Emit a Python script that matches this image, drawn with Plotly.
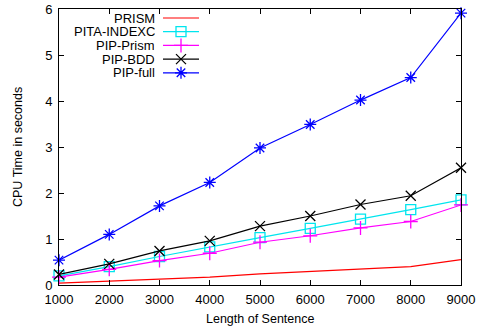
import plotly.graph_objects as go

lengths = [1000, 2000, 3000, 4000, 5000, 6000, 7000, 8000, 9000]
prism = [0.04, 0.08, 0.12, 0.17, 0.24, 0.29, 0.35, 0.40, 0.55]
pita_indexc = [0.20, 0.40, 0.62, 0.83, 1.03, 1.23, 1.43, 1.64, 1.85]
pip_prism = [0.17, 0.34, 0.53, 0.69, 0.93, 1.07, 1.24, 1.38, 1.74]
pip_bdd = [0.23, 0.46, 0.74, 0.96, 1.28, 1.50, 1.75, 1.94, 2.55]
pip_full = [0.54, 1.10, 1.72, 2.23, 2.98, 3.49, 4.02, 4.51, 5.91]

series = [
    ("PRISM", prism, "#ff0000", None),
    ("PITA-INDEXC", pita_indexc, "#00e5ee", "square-open"),
    ("PIP-Prism", pip_prism, "#ff00ff", "cross-thin-open"),
    ("PIP-BDD", pip_bdd, "#000000", "x-thin-open"),
    ("PIP-full", pip_full, "#0000ff", "asterisk-open"),
]

FONT = "Liberation Sans, Arial, sans-serif"
fig = go.Figure()

for name, vals, color, sym in series:
    fig.add_trace(go.Scatter(
        x=lengths, y=vals, name=name,
        mode="lines+markers" if sym else "lines",
        line=dict(color=color, width=1.2),
        marker=dict(symbol=sym or "circle", size=10, color=color,
                    line=dict(color=color, width=1.3)),
        showlegend=False, cliponaxis=False,
    ))

# gnuplot-style key (text right-aligned, sample to its right) on an overlay axis in pixel units
for i, (name, vals, color, sym) in enumerate(series):
    yrow = 9 + 13.7 * i
    fig.add_trace(go.Scatter(
        x=[104, 140], y=[yrow, yrow], mode="lines",
        line=dict(color=color, width=1.2),
        xaxis="x2", yaxis="y2", showlegend=False, hoverinfo="skip",
    ))
    if sym:
        fig.add_trace(go.Scatter(
            x=[122], y=[yrow], mode="markers",
            marker=dict(symbol=sym, size=10, color=color,
                        line=dict(color=color, width=1.3)),
            xaxis="x2", yaxis="y2", showlegend=False, hoverinfo="skip",
        ))
    fig.add_annotation(
        x=97, y=yrow, xref="x2", yref="y2", text=name, showarrow=False,
        xanchor="right", yanchor="middle", borderpad=0, height=13,
        font=dict(family=FONT, size=13, color="#000"),
    )

fig.add_annotation(x=0.5, y=0, xref="paper", yref="paper", text="Length of Sentence",
                   showarrow=False, xanchor="center", yanchor="middle", yshift=-34,
                   font=dict(family=FONT, size=12.5, color="#000"))
fig.add_annotation(x=0, y=0.5, xref="paper", yref="paper", text="CPU Time in seconds",
                   showarrow=False, xanchor="center", yanchor="middle", xshift=-41,
                   textangle=-90, font=dict(family=FONT, size=12.5, color="#000"))

axis_common = dict(
    showgrid=False, zeroline=False, showline=True, linecolor="black",
    linewidth=1, mirror="ticks", ticks="inside", ticklen=5,
    tickcolor="black", tickfont=dict(family=FONT, size=13, color="#000"),
    automargin=False, ticklabeloverflow="allow",
)

fig.update_layout(
    width=481, height=330,
    margin=dict(l=59, r=20, t=9, b=45),
    paper_bgcolor="white", plot_bgcolor="white",
    showlegend=False,
    xaxis=dict(range=[1000, 9000], tickvals=lengths, ticklabelstandoff=2, **axis_common),
    yaxis=dict(range=[0, 6], tickvals=[0, 1, 2, 3, 4, 5, 6], ticklabelstandoff=3, **axis_common),
    xaxis2=dict(range=[0, 402], overlaying="x", visible=False, anchor="y2"),
    yaxis2=dict(range=[276, 0], overlaying="y", visible=False, anchor="x2"),
)

fig.write_html("out.html", config={"displayModeBar": False},
               post_script="document.body.style.margin='0px';")
